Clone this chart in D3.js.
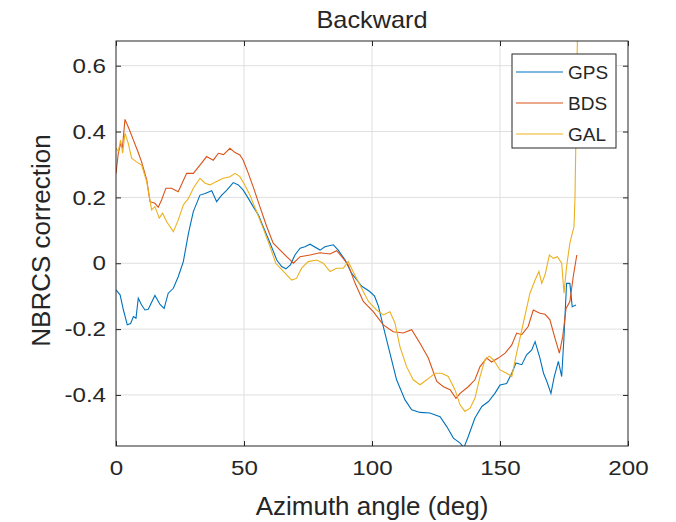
<!DOCTYPE html>
<html>
<head>
<meta charset="utf-8">
<script src="https://cdn.jsdelivr.net/npm/d3@7"></script>
<style>
  body { margin: 0; background: #fff; }
  text { font-family: "Liberation Sans", Arial, sans-serif; fill: #262626; }
</style>
</head>
<body>
<div id="chart"></div>
<script>
var width = 676,
    height = 522;

var margin = {top: 41, right: 48, bottom: 76, left: 116};

var xTicks = [0, 50, 100, 150, 200];
var yTicks = [-0.4, -0.2, 0, 0.2, 0.4, 0.6];

var seriesNames = ['GPS', 'BDS', 'GAL'];
var seriesColors = ['#0072BD', '#D95319', '#EDB120'];

// azimuth (deg) / correction pairs
var gpsX = [0, 1.6, 2.9, 4.4, 5.7, 6.8, 7.8, 8.7, 10, 11.3, 12.6, 15.2, 17.2, 18.8, 20.4, 22.4, 24.3, 26.3, 28.3, 30.2,
    32.8, 34.8, 37.4, 39.3, 41.3, 43.3, 45.8, 47.8, 49.7, 51.7, 53.6, 55.6, 57.5, 60.2, 62.8, 64.7, 66.4, 68.2, 69.9, 71.9,
    73.8, 75.8, 79.7, 81.6, 84.9, 86.8, 89.5, 92, 94, 96, 99, 101, 102.5, 104.4, 107, 109.6, 112.9, 115.5, 118.75, 122.6,
    126.6, 129.2, 131.8, 134.4, 135.9, 137.6, 140.2, 142.9, 145.5, 148, 150, 152.6, 154.6, 156.25, 158.5, 160.4, 162.4, 163.7, 165.6, 167,
    168.3, 169.9, 171.2, 172.8, 174.1, 175, 176, 177.3, 178.2, 179.7];
var gpsY = [-0.081, -0.096, -0.142, -0.187, -0.183, -0.162, -0.167, -0.106, -0.127, -0.142, -0.14, -0.098, -0.125, -0.137, -0.091, -0.076, -0.041, 0.005, 0.091, 0.157,
    0.207, 0.212, 0.22, 0.187, 0.207, 0.222, 0.245, 0.238, 0.222, 0.197, 0.172, 0.147, 0.111, 0.061, 0.01, -0.01, -0.017, -0.004, 0.025, 0.046,
    0.05, 0.058, 0.04, 0.05, 0.056, 0.04, 0.01, -0.03, -0.05, -0.07, -0.085, -0.1, -0.13, -0.192, -0.273, -0.354, -0.415, -0.445, -0.453, -0.455,
    -0.466, -0.496, -0.531, -0.546, -0.56, -0.526, -0.47, -0.435, -0.42, -0.395, -0.37, -0.365, -0.334, -0.303, -0.308, -0.278, -0.263, -0.238, -0.288, -0.334,
    -0.359, -0.395, -0.344, -0.298, -0.344, -0.223, -0.061, -0.061, -0.132, -0.127];

var bdsX = [0, 0.9, 1.8, 2.5, 3.5, 5, 6.8, 8.5, 10, 12, 13.3, 15.2, 16.5, 17.8, 19.5, 21.7, 24.3, 27.6, 30.2, 32.8,
    35.4, 38, 40, 42, 44.5, 46.5, 48.4, 49.7, 51.7, 53.6, 56.2, 58.9, 61.4, 64.7, 68, 69.3, 71.9, 75.8, 79.7, 83.6,
    86.2, 88.2, 90.7, 93.4, 96.6, 100.5, 104.4, 108.3, 112.2, 115.5, 118.75, 122, 125.3, 127.9, 130.5, 132.8, 134.4, 137.6, 140.2, 142.2,
    144.8, 146.7, 149.3, 152, 154.6, 156.5, 158.5, 161, 163, 165.6, 167.6, 169.5, 171.5, 173.2, 174.5, 175.8, 177.3, 178.6, 180];
var bdsY = [0.273, 0.334, 0.364, 0.35, 0.437, 0.41, 0.374, 0.34, 0.308, 0.253, 0.187, 0.182, 0.17, 0.192, 0.228, 0.228, 0.217, 0.273, 0.273, 0.298,
    0.324, 0.313, 0.334, 0.33, 0.349, 0.336, 0.329, 0.313, 0.273, 0.232, 0.172, 0.111, 0.061, 0.035, 0.01, 0.0, 0.02, 0.025, 0.032, 0.028,
    0.038, 0.02, -0.005, -0.061, -0.116, -0.147, -0.187, -0.208, -0.212, -0.202, -0.243, -0.288, -0.359, -0.375, -0.384, -0.41, -0.395, -0.375, -0.354, -0.314,
    -0.288, -0.3, -0.288, -0.273, -0.248, -0.212, -0.217, -0.192, -0.142, -0.152, -0.155, -0.172, -0.228, -0.273, -0.223, -0.137, -0.116, -0.041, 0.025];

var galX = [0, 0.9, 1.8, 2.6, 3.5, 4.8, 6.1, 8, 10, 12, 13.9, 15.2, 16.9, 18.2, 19.8, 22.4, 24.3, 26.3, 28.3, 30.2,
    32.8, 34.8, 36.7, 39.3, 41.9, 44.5, 46.5, 48.4, 50.3, 52.3, 54.9, 57.5, 60.2, 62.4, 65.4, 68.6, 70.5, 72.5, 75.1, 78.4,
    81, 83.6, 86.2, 88.8, 90.7, 92.6, 95.3, 98.6, 101.8, 104.4, 107, 109, 110.9, 113.5, 116.1, 118.75, 121.4, 124.6, 127.2, 129.8,
    132.4, 134.4, 136.3, 138.3, 140.2, 142.2, 144.1, 145.8, 147.4, 150, 152.6, 154.6, 156.5, 159.1, 161.7, 163.7, 165.2, 166.3, 167.6, 169.3,
    170.8, 172.4, 174.1, 175, 176, 177.3, 178.4, 178.9, 179.3, 179.6, 179.9, 180.3];
var galY = [0.349, 0.34, 0.374, 0.334, 0.395, 0.364, 0.319, 0.308, 0.298, 0.248, 0.162, 0.172, 0.137, 0.152, 0.126, 0.096, 0.131, 0.177, 0.197, 0.228,
    0.258, 0.243, 0.238, 0.248, 0.258, 0.263, 0.273, 0.263, 0.238, 0.207, 0.157, 0.106, 0.05, 0.0, -0.025, -0.051, -0.046, -0.015, 0.005, 0.01,
    0.0, -0.025, -0.015, -0.015, 0.005, -0.025, -0.066, -0.116, -0.142, -0.157, -0.147, -0.182, -0.253, -0.314, -0.354, -0.369, -0.354, -0.334, -0.334, -0.344,
    -0.384, -0.43, -0.45, -0.44, -0.41, -0.344, -0.293, -0.282, -0.293, -0.324, -0.334, -0.344, -0.273, -0.182, -0.091, -0.051, -0.025, -0.061, -0.035, 0.025,
    0.015, 0.02, 0.0, -0.091, -0.01, 0.061, 0.096, 0.11, 0.202, 0.354, 0.506, 0.72];

var series = [
    {name: seriesNames[0], color: seriesColors[0], values: d3.zip(gpsX, gpsY)},
    {name: seriesNames[1], color: seriesColors[1], values: d3.zip(bdsX, bdsY)},
    {name: seriesNames[2], color: seriesColors[2], values: d3.zip(galX, galY)}
];

var pw = width - margin.left - margin.right,
    ph = height - margin.top - margin.bottom;

var x = d3.scaleLinear().domain([0, 200]).range([0, pw]);
var y = d3.scaleLinear().domain([-0.555, 0.675]).range([ph, 0]);

var svg = d3.select('#chart').append('svg')
    .attr('width', width)
    .attr('height', height);

var g = svg.append('g')
    .attr('transform', 'translate(' + margin.left + ',' + margin.top + ')');

// grid
g.append('g').selectAll('line.gx')
    .data(xTicks.slice(1, -1))
    .enter().append('line')
    .attr('x1', function(d) { return x(d); })
    .attr('x2', function(d) { return x(d); })
    .attr('y1', 0).attr('y2', ph)
    .attr('stroke', '#dfdfdf').attr('stroke-width', 1);

g.append('g').selectAll('line.gy')
    .data(yTicks)
    .enter().append('line')
    .attr('y1', function(d) { return y(d); })
    .attr('y2', function(d) { return y(d); })
    .attr('x1', 0).attr('x2', pw)
    .attr('stroke', '#dfdfdf').attr('stroke-width', 1);

g.append('clipPath').attr('id', 'clip')
    .append('rect').attr('width', pw).attr('height', ph);

var line = d3.line()
    .x(function(d) { return x(d[0]); })
    .y(function(d) { return y(d[1]); });

g.append('g').attr('clip-path', 'url(#clip)')
    .selectAll('path')
    .data(series)
    .enter().append('path')
    .attr('d', function(d) { return line(d.values); })
    .attr('fill', 'none')
    .attr('stroke', function(d) { return d.color; })
    .attr('stroke-width', 1.1);

// axes, ticks inside, box on
var sx = 1.15;
function styleAxis(sel) {
    sel.select('.domain').remove();
    sel.selectAll('.tick line').attr('stroke', '#262626');
    sel.selectAll('text')
        .attr('font-family', '"Liberation Sans", Arial, sans-serif')
        .attr('font-size', 21)
        .attr('fill', '#262626');
}

var fmtY = function(d) { return d === 0 ? '0' : d.toFixed(1); };

var xAxisG = g.append('g')
    .attr('transform', 'translate(0,' + ph + ')')
    .call(d3.axisBottom(x).tickValues(xTicks).tickSizeInner(-5).tickSizeOuter(0).tickPadding(14))
    .call(styleAxis);
xAxisG.selectAll('.tick text').attr('transform', 'scale(' + sx + ',1)');

g.append('g')
    .call(d3.axisTop(x).tickValues(xTicks).tickSizeInner(-5).tickSizeOuter(0).tickFormat(''))
    .call(styleAxis);

var yAxisG = g.append('g')
    .call(d3.axisLeft(y).tickValues(yTicks).tickSizeInner(-5).tickSizeOuter(0).tickPadding(10).tickFormat(fmtY))
    .call(styleAxis);
yAxisG.selectAll('.tick text')
    .attr('x', -10 / sx)
    .attr('transform', 'scale(' + sx + ',1)');

g.append('g')
    .attr('transform', 'translate(' + pw + ',0)')
    .call(d3.axisRight(y).tickValues(yTicks).tickSizeInner(-5).tickSizeOuter(0).tickFormat(''))
    .call(styleAxis);

g.append('rect')
    .attr('width', pw).attr('height', ph)
    .attr('fill', 'none')
    .attr('stroke', '#262626').attr('stroke-width', 1);

// labels
svg.append('text')
    .attr('transform', 'translate(' + (margin.left + pw / 2) + ',28) scale(1.1,1)')
    .attr('text-anchor', 'middle')
    .attr('font-size', 23)
    .text('Backward');

svg.append('text')
    .attr('x', margin.left + pw / 2).attr('y', 515)
    .attr('text-anchor', 'middle')
    .attr('font-size', 26)
    .text('Azimuth angle (deg)');

svg.append('text')
    .attr('transform', 'translate(50,' + (margin.top + ph / 2 - 3) + ') rotate(-90)')
    .attr('text-anchor', 'middle')
    .attr('font-size', 26)
    .text('NBRCS correction');

// legend
var legend = svg.append('g').attr('transform', 'translate(512,54)');

legend.append('rect')
    .attr('width', 104).attr('height', 94)
    .attr('fill', '#fff')
    .attr('stroke', '#262626').attr('stroke-width', 1);

var items = legend.selectAll('g.item')
    .data(series)
    .enter().append('g')
    .attr('transform', function(d, i) { return 'translate(0,' + (18 + i * 31) + ')'; });

items.append('line')
    .attr('x1', 4).attr('x2', 51)
    .attr('stroke', function(d) { return d.color; })
    .attr('stroke-width', 1.1);

items.append('text')
    .attr('x', 56).attr('y', 7)
    .attr('font-size', 19)
    .text(function(d) { return d.name; });
</script>
</body>
</html>
